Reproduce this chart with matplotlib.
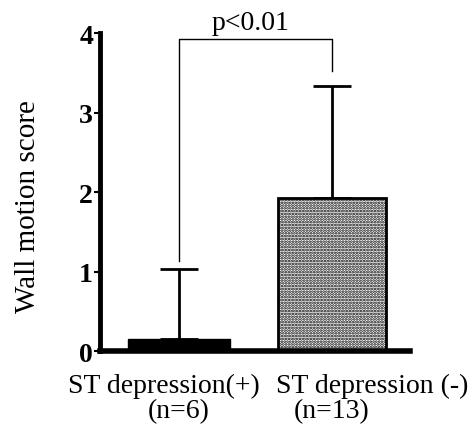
"""Wall motion score by ST depression group, bar chart with SD and p-value bracket."""

import numpy as np
import matplotlib
matplotlib.use("Agg")
import matplotlib.pyplot as plt

group_names = ["ST depression(+)", "ST depression (-)"]
group_n = ["(n=6)", "(n=13)"]
means = [0.15, 1.92]
sds = [0.88, 1.41]
p_text = "p<0.01"
yticks = [0, 1, 2, 3, 4]

plt.rcParams["font.family"] = ["Liberation Serif", "DejaVu Serif"]
plt.rcParams["hatch.linewidth"] = 1.3

fig = plt.figure(figsize=(4.77, 4.27), dpi=100)
ax = fig.add_axes([0.2096, 0.1756, 0.65, 0.7447])

x = np.arange(len(means))
ax.bar(x[0], means[0], width=0.67, color="black", edgecolor="black", zorder=2)
ax.bar(x[1], means[1], width=0.70, facecolor="white", edgecolor="black",
       hatch="......", linewidth=2, zorder=2)
ax.errorbar(x, np.array(means), yerr=[np.zeros(2), np.array(sds)], fmt="none",
            ecolor="black", elinewidth=2, capsize=14, capthick=2, zorder=1)

# significance bracket
top = 3.92
ax.plot([x[0], x[0], x[1], x[1]], [means[0] + sds[0] + 0.1, top, top, 3.52],
        color="black", lw=1, clip_on=False, zorder=0)
ax.text((x[0] + x[1]) / 2 - 0.03, top + 0.05, p_text, ha="center", va="bottom",
        fontsize=20, clip_on=False)

ax.set_xlim(-0.516, 1.51)
ax.set_ylim(0, 4)
ax.set_yticks(yticks)
ax.set_yticklabels([str(t) for t in yticks], fontsize=20, fontweight="bold")
ax.set_xticks([])
ax.tick_params(axis="y", length=4, width=1.5, pad=1)
ax.set_ylabel("Wall motion score", fontsize=21)
ax.yaxis.set_label_coords(-0.19, 0.456)

# category labels: first line sits off-centre in the original
name_x = [-0.10, 1.26]
trans = ax.get_xaxis_transform()
for xi, nx, name, n in zip(x, name_x, group_names, group_n):
    ax.text(nx, -0.129, name, transform=trans, ha="center", va="baseline",
            fontsize=20, clip_on=False)
    ax.text(xi, -0.208, n, transform=trans, ha="center", va="baseline",
            fontsize=20, clip_on=False)

for side in ["top", "right"]:
    ax.spines[side].set_visible(False)
ax.spines["left"].set_linewidth(3.5)
ax.spines["bottom"].set_linewidth(4)

fig.savefig("out.png", dpi=100)
